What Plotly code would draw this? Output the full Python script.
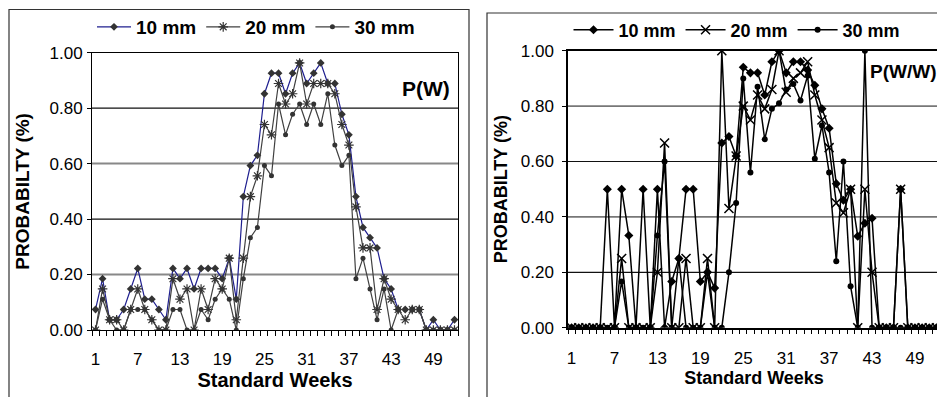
import plotly.graph_objects as go

# ---------------- data ----------------
weeks = list(range(1, 53))
tick_weeks = [1, 7, 13, 19, 25, 31, 37, 43, 49]
y_ticks = [0.0, 0.2, 0.4, 0.6, 0.8, 1.0]
series_names = ["10 mm", "20 mm", "30 mm"]

# P(W) - probability of a wet week
pw_10 = [0.074, 0.185, 0.037, 0.037, 0.074, 0.148, 0.222, 0.111, 0.111, 0.074,
         0.037, 0.222, 0.185, 0.222, 0.148, 0.222, 0.222, 0.222, 0.185, 0.259,
         0.111, 0.481, 0.593, 0.630, 0.852, 0.926, 0.926, 0.852, 0.926, 0.963,
         0.889, 0.926, 0.963, 0.889, 0.889, 0.778, 0.704, 0.481, 0.370, 0.333,
         0.296, 0.185, 0.148, 0.074, 0.074, 0.074, 0.074, 0.000, 0.037, 0.000,
         0.000, 0.037]
pw_20 = [0.000, 0.148, 0.037, 0.037, 0.000, 0.074, 0.148, 0.074, 0.037, 0.000,
         0.000, 0.185, 0.111, 0.148, 0.000, 0.148, 0.074, 0.185, 0.148, 0.259,
         0.037, 0.259, 0.481, 0.556, 0.741, 0.704, 0.889, 0.815, 0.852, 0.963,
         0.815, 0.889, 0.889, 0.889, 0.852, 0.741, 0.667, 0.444, 0.296, 0.296,
         0.074, 0.185, 0.111, 0.074, 0.037, 0.074, 0.074, 0.000, 0.000, 0.000,
         0.000, 0.000]
pw_30 = [0.000, 0.111, 0.037, 0.000, 0.000, 0.074, 0.074, 0.074, 0.037, 0.000,
         0.000, 0.074, 0.074, 0.000, 0.000, 0.074, 0.037, 0.111, 0.148, 0.111,
         0.000, 0.185, 0.333, 0.370, 0.593, 0.556, 0.815, 0.704, 0.778, 0.815,
         0.741, 0.815, 0.741, 0.852, 0.667, 0.593, 0.630, 0.185, 0.259, 0.148,
         0.037, 0.148, 0.000, 0.074, 0.074, 0.074, 0.074, 0.000, 0.000, 0.000,
         0.000, 0.000]

# P(W/W) - probability of a wet week preceded by a wet week
pww_10 = [0.0, 0.0, 0.0, 0.0, 0.0, 0.5, 0.0, 0.5, 0.333, 0.0,
          0.5, 0.0, 0.5, 0.0, 0.167, 0.25, 0.5, 0.5, 0.167, 0.2,
          0.143, 0.667, 0.69, 0.62, 0.94, 0.92, 0.92, 0.84, 0.96, 1.0,
          0.92, 0.96, 0.96, 0.93, 0.875, 0.79, 0.72, 0.52, 0.46, 0.5,
          0.33, 0.377, 0.395, 0.0, 0.0, 0.0, 0.5, 0.0, 0.0, 0.0,
          0.0, 0.0]
pww_20 = [0.0, 0.0, 0.0, 0.0, 0.0, 0.0, 0.0, 0.25, 0.0, 0.0,
          0.0, 0.0, 0.2, 0.667, 0.0, 0.0, 0.25, 0.0, 0.0, 0.25,
          0.0, 1.0, 0.43, 0.62, 0.8, 0.75, 0.84, 0.79, 0.86, 1.0,
          0.85, 0.9, 0.92, 0.96, 0.84, 0.75, 0.65, 0.45, 0.415, 0.5,
          0.0, 0.5, 0.2, 0.0, 0.0, 0.0, 0.5, 0.0, 0.0, 0.0,
          0.0, 0.0]
pww_30 = [0.0, 0.0, 0.0, 0.0, 0.0, 0.0, 0.0, 0.167, 0.0, 0.0,
          0.0, 0.0, 0.333, 0.6, 0.0, 0.25, 0.0, 0.0, 0.0, 0.2,
          0.0, 0.0, 0.2, 0.45, 0.9, 0.56, 0.87, 0.68, 0.79, 0.81,
          0.86, 0.88, 0.82, 0.91, 0.61, 0.73, 0.56, 0.24, 0.6, 0.15,
          0.0, 1.0, 0.0, 0.0, 0.0, 0.0, 0.0, 0.0, 0.0, 0.0,
          0.0, 0.0]

# ---------------- figure ----------------
# the page body adds an 8px offset, so the figure is 8px smaller and all
# positions (given in window pixels) are shifted by that offset
OFF = 8
W, H = 945 - OFF, 397 - OFF
FONT = "Liberation Sans, Arial, Helvetica, sans-serif"

def px(x):
    return (x - OFF) / W

def py(y):
    return 1 - (y - OFF) / H

fig = go.Figure()

# left panel
left_styles = [
    dict(line=dict(color="#1f1f8f", width=1.2),
         marker=dict(symbol="diamond", size=6, color="#333333")),
    dict(line=dict(color="#404040", width=1.2),
         marker=dict(symbol="asterisk-open", size=8, color="#333333",
                     line=dict(color="#333333", width=1.2))),
    dict(line=dict(color="#404040", width=1.2),
         marker=dict(symbol="circle", size=5, color="#333333")),
]
for name, vals, st in zip(series_names, [pw_10, pw_20, pw_30], left_styles):
    fig.add_trace(go.Scatter(x=weeks, y=vals, mode="lines+markers", name=name,
                             xaxis="x", yaxis="y", legend="legend", **st))

# right panel
right_styles = [
    dict(line=dict(color="#000000", width=1.5),
         marker=dict(symbol="diamond", size=7, color="#000000")),
    dict(line=dict(color="#000000", width=1.5),
         marker=dict(symbol="x-thin-open", size=9, color="#000000",
                     line=dict(color="#000000", width=1.5))),
    dict(line=dict(color="#000000", width=1.5),
         marker=dict(symbol="circle", size=6, color="#000000")),
]
for name, vals, st in zip(series_names, [pww_10, pww_20, pww_30], right_styles):
    fig.add_trace(go.Scatter(x=weeks, y=vals, mode="lines+markers", name=name,
                             xaxis="x2", yaxis="y2", legend="legend2", **st))

def xaxis_cfg(domain, fsize, tsize, lw, anchor):
    return dict(
        domain=domain, range=[0.5, 52.5], tickmode="array", anchor=anchor,
        tickvals=tick_weeks, ticktext=[str(t) for t in tick_weeks],
        ticks="", showgrid=False, zeroline=False, automargin=False,
        showline=True, linecolor="black", linewidth=lw, mirror=True,
        tickfont=dict(family=FONT, size=fsize, color="black"),
        ticklabelstandoff=14,
        minor=dict(tickmode="linear", tick0=0.5, dtick=1, ticks="outside",
                   ticklen=5, tickcolor="black", showgrid=False),
        title=dict(text="Standard Weeks", standoff=4,
                   font=dict(family=FONT, size=tsize, color="black", weight="bold")),
    )

def yaxis_cfg(domain, fsize, tsize, lw, anchor, standoff, lblgap):
    return dict(
        domain=domain, range=[0, 1], tickmode="array", tickvals=y_ticks,
        tickformat=".2f", ticks="outside", ticklen=4, tickcolor="black",
        showgrid=False, zeroline=False, anchor=anchor, automargin=False,
        showline=True, linecolor="black", linewidth=lw, mirror=True,
        ticklabelstandoff=lblgap,
        tickfont=dict(family=FONT, size=fsize, color="black"),
        title=dict(text="PROBABILTY (%)", standoff=standoff,
                   font=dict(family=FONT, size=tsize, color="black", weight="bold")),
    )

left_x = [px(92), px(458)]
left_y = [py(330), py(52.7)]
right_x = [px(568), px(940)]
right_y = [py(327.7), py(50.7)]

shapes = []
# horizontal gridlines (alternating tones as in the reference)
grid_left = {0.2: ("#888888", 2), 0.4: ("#111111", 1.2), 0.6: ("#888888", 2), 0.8: ("#111111", 1.2)}
grid_right = {0.2: ("#111111", 1.2), 0.4: ("#777777", 1.6), 0.6: ("#111111", 1.2), 0.8: ("#777777", 1.6)}
for yv, (c, w) in grid_left.items():
    shapes.append(dict(type="line", xref="x domain", yref="y", x0=0, x1=1, y0=yv, y1=yv,
                       line=dict(color=c, width=w), layer="below"))
for yv, (c, w) in grid_right.items():
    shapes.append(dict(type="line", xref="x2 domain", yref="y2", x0=0, x1=1, y0=yv, y1=yv,
                       line=dict(color=c, width=w), layer="below"))
# outer chart frames
shapes.append(dict(type="rect", xref="paper", yref="paper",
                   x0=px(9), x1=px(469), y0=-0.1, y1=py(9.5),
                   line=dict(color="#333333", width=1.2), fillcolor="rgba(0,0,0,0)"))
shapes.append(dict(type="rect", xref="paper", yref="paper",
                   x0=px(487), x1=1.05, y0=-0.1, y1=py(13),
                   line=dict(color="#333333", width=1.2), fillcolor="rgba(0,0,0,0)"))

fig.update_layout(
    width=W, height=H,
    margin=dict(l=0, r=0, t=0, b=0, autoexpand=False),
    paper_bgcolor="white", plot_bgcolor="white",
    font=dict(family=FONT, color="black"),
    xaxis=xaxis_cfg(left_x, 17, 20, 1, "y"),
    yaxis=yaxis_cfg(left_y, 17, 19, 1, "x", 14, 1),
    xaxis2=xaxis_cfg(right_x, 17, 18, 1.5, "y2"),
    yaxis2=yaxis_cfg(right_y, 17, 18, 1.5, "x2", 8, 5),
    shapes=shapes,
    legend=dict(orientation="h", x=px(256), xanchor="center", y=py(27), yanchor="middle",
                font=dict(family=FONT, size=19, color="black", weight="bold"),
                bgcolor="rgba(0,0,0,0)", itemwidth=34, tracegroupgap=0),
    legend2=dict(orientation="h", x=px(737), xanchor="center", y=py(30), yanchor="middle",
                 font=dict(family=FONT, size=18, color="black", weight="bold"),
                 bgcolor="rgba(0,0,0,0)", itemwidth=40, tracegroupgap=0),
    annotations=[
        dict(text="P(W)", xref="paper", yref="paper", x=px(452), y=py(89),
             xanchor="right", yanchor="middle", showarrow=False,
             font=dict(family=FONT, size=21, color="black", weight="bold")),
        dict(text="P(W/W)", xref="paper", yref="paper", x=px(938), y=py(72),
             xanchor="right", yanchor="middle", showarrow=False,
             font=dict(family=FONT, size=19, color="black", weight="bold")),
    ],
)

fig.write_html("out.html")
